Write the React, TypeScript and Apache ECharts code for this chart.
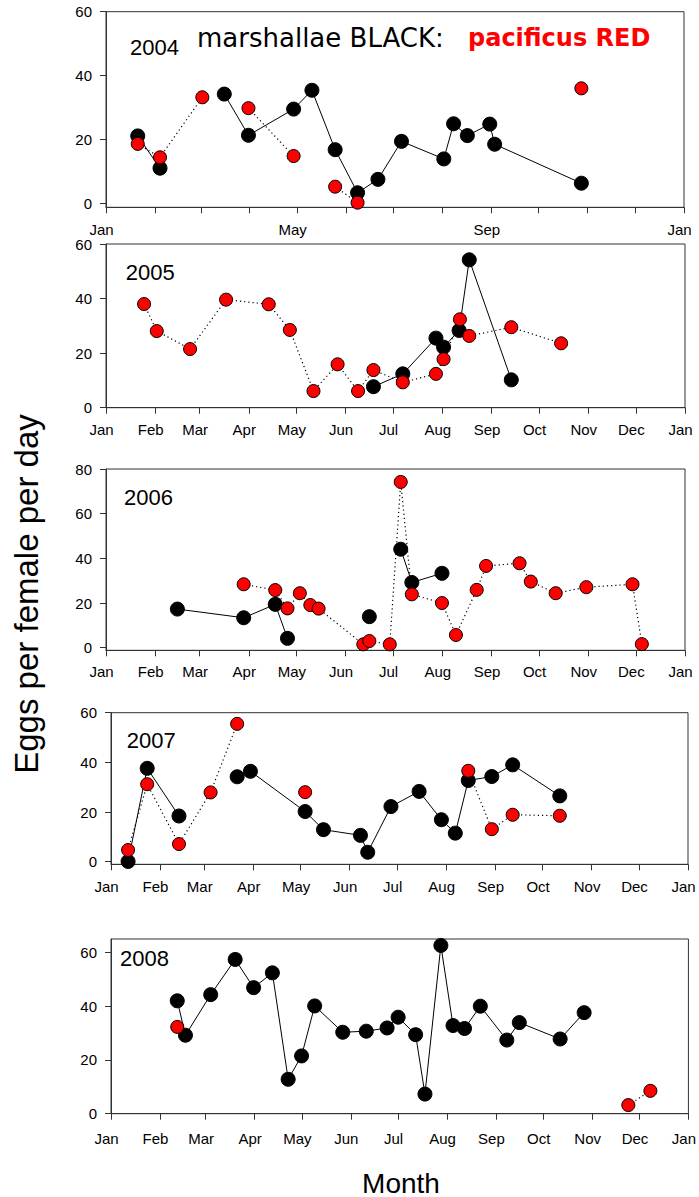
import React, { useEffect, useRef } from "react";
import * as echarts from "echarts";

// ---- axis definitions ----
const MONTH_NAMES = ["Jan", "Feb", "Mar", "Apr", "May", "Jun", "Jul", "Aug", "Sep", "Oct", "Nov", "Dec", "Jan"];
const MONTH_START_LEAP = [0, 31, 60, 91, 121, 152, 182, 213, 244, 274, 305, 335, 366];
const MONTH_START = [0, 31, 59, 90, 120, 151, 181, 212, 243, 273, 304, 334, 365];
const YEAR_LABELS = ["2004", "2005", "2006", "2007", "2008"];
const Y_TICKS_60 = [0, 20, 40, 60];
const Y_TICKS_80 = [0, 20, 40, 60, 80];

// ---- data: day of year (0 = 1 Jan), eggs per female per day ----
// marshallae (BLACK)
const blackDays2004 = [20.1, 34.2, 74.9, 90.2, 118.8, 130.4, 145.1, 159.3, 172.2, 187.1, 213.9, 220.1, 228.8, 243.0, 246.1, 301.0];
const blackVals2004 = [21.1, 11.0, 34.2, 21.3, 29.5, 35.4, 16.8, 3.3, 7.5, 19.4, 13.9, 24.9, 21.2, 24.8, 18.5, 6.3];
const blackBreaks2004 = [1];
// pacificus (RED)
const redDays2004 = [20.1, 34.2, 61.0, 90.2, 118.8, 145.1, 159.3, 301.0];
const redVals2004 = [18.6, 14.4, 33.2, 29.8, 14.8, 5.2, 0.2, 36.0];
const redBreaks2004 = [2, 4, 6];

const blackDays2005 = [168.6, 187.1, 208.0, 212.8, 222.6, 229.0, 255.5];
const blackVals2005 = [7.7, 12.4, 25.5, 22.2, 28.3, 54.2, 10.2];
const blackBreaks2005: number[] = [];
const redDays2005 = [24.0, 32.0, 53.0, 75.7, 102.6, 115.9, 130.8, 146.0, 158.9, 168.6, 187.1, 208.0, 212.8, 223.1, 229.0, 255.5, 286.9];
const redVals2005 = [38.0, 28.1, 21.5, 39.6, 37.9, 28.5, 6.1, 15.9, 6.1, 13.8, 9.3, 12.4, 17.8, 32.4, 26.3, 29.5, 23.6];
const redBreaks2005: number[] = [];

const blackDays2006 = [45.0, 86.8, 106.7, 114.4, 166.0, 185.8, 192.8, 211.8];
const blackVals2006 = [17.3, 13.4, 19.4, 4.2, 13.9, 44.1, 29.2, 33.3];
const blackBreaks2006 = [3, 4];
const redDays2006 = [86.8, 106.7, 114.4, 122.2, 128.8, 134.0, 162.2, 166.0, 178.9, 185.8, 192.8, 211.8, 220.6, 233.7, 239.6, 260.7, 267.8, 283.5, 302.8, 331.9, 337.8];
const redVals2006 = [28.4, 25.8, 17.6, 24.4, 19.1, 17.5, 1.5, 3.0, 1.5, 74.2, 23.9, 20.0, 5.7, 25.9, 36.6, 37.8, 29.6, 24.4, 27.1, 28.4, 1.6];
const redBreaks2006: number[] = [];

const blackDays2007 = [10.8, 22.9, 43.0, 79.8, 88.2, 122.8, 134.4, 157.8, 162.4, 177.1, 194.9, 209.0, 217.8, 226.0, 240.9, 254.1, 283.9];
const blackVals2007 = [0.1, 37.6, 18.4, 34.2, 36.4, 20.2, 12.9, 10.6, 3.8, 22.2, 28.3, 16.9, 11.5, 32.7, 34.3, 39.0, 26.5];
const blackBreaks2007 = [2];
const redDays2007 = [10.8, 22.9, 43.0, 63.0, 79.8, 122.8, 226.0, 240.9, 254.1, 283.9];
const redVals2007 = [4.7, 31.2, 7.1, 27.9, 55.5, 28.0, 36.6, 13.1, 18.9, 18.5];
const redBreaks2007 = [4, 5];

const blackDays2008 = [42.0, 47.2, 63.2, 78.7, 90.4, 102.3, 112.3, 120.8, 129.1, 146.9, 161.8, 175.0, 182.0, 193.1, 199.0, 209.1, 216.8, 224.1, 234.1, 250.9, 258.8, 284.7, 299.9];
const blackVals2008 = [42.0, 29.2, 44.3, 57.4, 46.9, 52.4, 12.8, 21.5, 40.1, 30.3, 30.7, 31.9, 35.9, 29.4, 7.3, 62.6, 32.8, 31.7, 40.0, 27.4, 33.9, 27.8, 37.6];
const blackBreaks2008: number[] = [];
const redDays2008 = [42.0, 327.9, 341.9];
const redVals2008 = [32.3, 3.2, 8.5];
const redBreaks2008 = [0];

const BLACK = [
  [blackDays2004, blackVals2004, blackBreaks2004],
  [blackDays2005, blackVals2005, blackBreaks2005],
  [blackDays2006, blackVals2006, blackBreaks2006],
  [blackDays2007, blackVals2007, blackBreaks2007],
  [blackDays2008, blackVals2008, blackBreaks2008],
] as [number[], number[], number[]][];
const RED = [
  [redDays2004, redVals2004, redBreaks2004],
  [redDays2005, redVals2005, redBreaks2005],
  [redDays2006, redVals2006, redBreaks2006],
  [redDays2007, redVals2007, redBreaks2007],
  [redDays2008, redVals2008, redBreaks2008],
] as [number[], number[], number[]][];

function buildPoints(days: number[], vals: number[], breaks: number[]) {
  const out: any[] = [];
  days.forEach((d, i) => {
    out.push([d, vals[i]]);
    if (breaks.includes(i)) out.push([d, "-"]);
  });
  return out;
}

const FONT = '"Liberation Sans", Arial, sans-serif';
const AXIS_COLOR = "#333";

export default function App() {
  const ref = useRef<HTMLDivElement>(null);

  useEffect(() => {
    if (!ref.current) return;
    const chart = echarts.init(ref.current, undefined, { renderer: "svg" });

    // layout per panel (pixels)
    const layout = [
      { left: 106, top: 11.7, width: 578, height: 195.6, yMin: -1.25, yMax: 60, yTicks: Y_TICKS_60, starts: MONTH_START_LEAP, labelMargin: 15, labelEvery: 4, yearX: 130, yearY: 47.7 },
      { left: 106, top: 244, width: 579, height: 163.7, yMin: 0, yMax: 60, yTicks: Y_TICKS_60, starts: MONTH_START, labelMargin: 14.5, labelEvery: 1, yearX: 125.7, yearY: 272.7 },
      { left: 106, top: 469, width: 579, height: 181.3, yMin: -1.16, yMax: 80, yTicks: Y_TICKS_80, starts: MONTH_START, labelMargin: 14, labelEvery: 1, yearX: 124, yearY: 497.3 },
      { left: 111, top: 712.7, width: 577, height: 151.6, yMin: -1.05, yMax: 60, yTicks: Y_TICKS_60, starts: MONTH_START, labelMargin: 15, labelEvery: 1, yearX: 126.7, yearY: 740 },
      { left: 111, top: 939, width: 578, height: 174.7, yMin: 0, yMax: 65, yTicks: Y_TICKS_60, starts: MONTH_START_LEAP, labelMargin: 17.5, labelEvery: 1, yearX: 120, yearY: 958 },
    ];

    const grid = layout.map((l) => ({
      left: l.left,
      top: l.top,
      width: l.width,
      height: l.height,
      show: true,
      borderColor: AXIS_COLOR,
      borderWidth: 1,
      backgroundColor: "transparent",
    }));

    const xAxis = layout.map((l, i) => {
      const labelVals = l.starts.filter((_, k) => k % l.labelEvery === 0);
      return {
        type: "value",
        gridIndex: i,
        min: 0,
        max: l.starts[12],
        axisLine: { show: true, onZero: false, lineStyle: { color: AXIS_COLOR, width: 1 } },
        axisTick: { show: true, inside: false, length: 6, customValues: l.starts, lineStyle: { color: AXIS_COLOR, width: 1 } },
        axisLabel: {
          show: true,
          customValues: labelVals,
          margin: l.labelMargin,
          color: "#000",
          fontSize: 15,
          fontFamily: FONT,
          padding: [0, 9, 0, 0],
          showMinLabel: true,
          showMaxLabel: true,
          formatter: (v: number) => {
            const idx = l.starts.findIndex((s) => Math.abs(s - v) < 0.01);
            return idx >= 0 ? MONTH_NAMES[idx] : "";
          },
        },
        splitLine: { show: false },
      };
    });

    const yAxis = layout.map((l, i) => ({
      type: "value",
      gridIndex: i,
      min: l.yMin,
      max: l.yMax,
      axisLine: { show: true, lineStyle: { color: AXIS_COLOR, width: 1 } },
      axisTick: { show: true, inside: false, length: 6, customValues: l.yTicks, lineStyle: { color: AXIS_COLOR, width: 1 } },
      axisLabel: {
        show: true,
        customValues: l.yTicks,
        margin: 14,
        color: "#000",
        fontSize: 15,
        fontFamily: FONT,
        showMinLabel: true,
        showMaxLabel: true,
      },
      splitLine: { show: false },
    }));

    const series: any[] = [];
    layout.forEach((_, i) => {
      const [bd, bv, bb] = BLACK[i];
      const [rd, rv, rb] = RED[i];
      series.push({
        type: "line",
        name: "marshallae " + YEAR_LABELS[i],
        xAxisIndex: i,
        yAxisIndex: i,
        data: buildPoints(bd, bv, bb),
        connectNulls: false,
        symbol: "circle",
        symbolSize: 14,
        showAllSymbol: true,
        itemStyle: { color: "#000", borderColor: "#000", borderWidth: 1 },
        lineStyle: { color: "#000", width: 1, type: "solid" },
        emphasis: { disabled: true },
        z: 2,
      });
      series.push({
        type: "line",
        name: "pacificus " + YEAR_LABELS[i],
        xAxisIndex: i,
        yAxisIndex: i,
        data: buildPoints(rd, rv, rb),
        connectNulls: false,
        symbol: "circle",
        symbolSize: 13,
        showAllSymbol: true,
        itemStyle: { color: "#ff0000", borderColor: "#000", borderWidth: 1 },
        lineStyle: { color: "#000", width: 1.2, type: [1.2, 3] },
        emphasis: { disabled: true },
        z: 3,
      });
    });

    const graphic: any[] = layout.map((l, i) => ({
      type: "text",
      x: l.yearX,
      y: l.yearY,
      silent: true,
      style: {
        text: YEAR_LABELS[i],
        fill: "#000",
        fontSize: 22,
        fontFamily: FONT,
        align: "left",
        verticalAlign: "middle",
      },
    }));
    graphic.push(
      {
        type: "text",
        x: 197,
        y: 37.6,
        silent: true,
        style: { text: "marshallae BLACK:", fill: "#000", fontSize: 26, fontFamily: '"DejaVu Sans", sans-serif', align: "left", verticalAlign: "middle" },
      },
      {
        type: "text",
        x: 468,
        y: 38.3,
        silent: true,
        style: { text: "pacificus RED", fill: "#ff0000", fontSize: 24, fontWeight: "bold", fontFamily: '"DejaVu Sans", sans-serif', align: "left", verticalAlign: "middle" },
      },
      {
        type: "text",
        x: 26,
        y: 594,
        rotation: Math.PI / 2,
        silent: true,
        style: { text: "Eggs per female per day", fill: "#000", fontSize: 33, fontFamily: FONT, align: "center", verticalAlign: "middle" },
      },
      {
        type: "text",
        x: 401,
        y: 1183,
        silent: true,
        style: { text: "Month", fill: "#000", fontSize: 28, fontFamily: FONT, align: "center", verticalAlign: "middle" },
      }
    );

    chart.setOption({
      animation: false,
      backgroundColor: "#fff",
      tooltip: { show: false },
      grid,
      xAxis,
      yAxis,
      series,
      graphic,
    });

    return () => chart.dispose();
  }, []);

  return (
    <div
      ref={ref}
      style={{ position: "absolute", left: 0, top: 0, width: 699, height: 1197, background: "#fff" }}
    />
  );
}
